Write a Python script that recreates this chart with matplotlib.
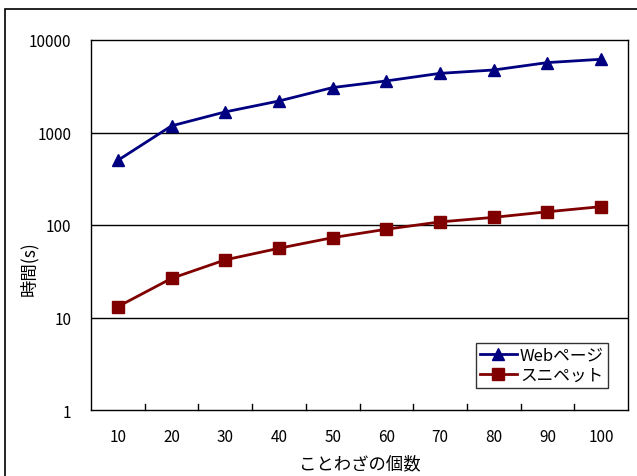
import numpy as np
import matplotlib.pyplot as plt
import matplotlib.patches as patches

plt.rcParams['font.family'] = ['Noto Sans CJK JP', 'DejaVu Sans']

# data
counts = [10, 20, 30, 40, 50, 60, 70, 80, 90, 100]
web_pages = [500, 1180, 1670, 2190, 3060, 3610, 4360, 4740, 5700, 6190]
snippets = [13.1, 26.5, 42, 56, 73, 90, 108, 121, 139, 158]
y_ticks = [1, 10, 100, 1000, 10000]

fig = plt.figure(figsize=(6.37, 4.77), dpi=100)
ax = fig.add_axes([91 / 637, 1 - 411 / 477, (628 - 91) / 637, (411 - 41) / 477])

# outer frame of the chart area
frame = patches.Rectangle((5 / 637, -0.1), 1.2, 1 - 10 / 477 + 0.1, transform=fig.transFigure,
                          fill=False, edgecolor='black', linewidth=1.2)
fig.patches.append(frame)

x = np.arange(1, len(counts) + 1)
ax.plot(x, web_pages, color='#000080', marker='^', markersize=9, linewidth=2,
        label='Webページ')
ax.plot(x, snippets, color='#800000', marker='s', markersize=8.5, linewidth=2,
        label='スニペット')

ax.set_yscale('log')
ax.set_ylim(1, 10000)
ax.set_yticks(y_ticks)
ax.set_yticklabels([str(v) for v in y_ticks])
ax.minorticks_off()
ax.tick_params(axis='y', length=0, pad=14, labelsize=11)

ax.set_xlim(0.5, len(counts) + 0.5)
ax.set_xticks(x)
ax.set_xticklabels([str(c) for c in counts])
ax.tick_params(axis='x', length=0, pad=13, labelsize=11)
# category boundary ticks pointing inward
for b in np.arange(1.5, len(counts), 1.0):
    ax.plot([b, b], [1, 10 ** 0.07], color='black', linewidth=1, clip_on=False)

for v in y_ticks[1:-1]:
    ax.axhline(v, color='black', linewidth=1, zorder=0)

for s in ax.spines.values():
    s.set_color('black')
    s.set_linewidth(1)

ax.set_xlabel('ことわざの個数', fontsize=12.5)
ax.xaxis.set_label_coords(0.5, -(455 - 411) / 370)
ax.set_ylabel('時間(s)', fontsize=12.5)
ax.yaxis.set_label_coords(-(91 - 38) / 537, (411 - 269) / 370)

leg = ax.legend(loc='lower right', bbox_to_anchor=(0.963, 0.059), fontsize=12,
                frameon=True, fancybox=False, edgecolor='black', handlelength=2.2,
                borderpad=0.25, labelspacing=0.2, handletextpad=0.2, borderaxespad=0)
leg.get_frame().set_linewidth(1)

fig.savefig('out.png', dpi=100)
